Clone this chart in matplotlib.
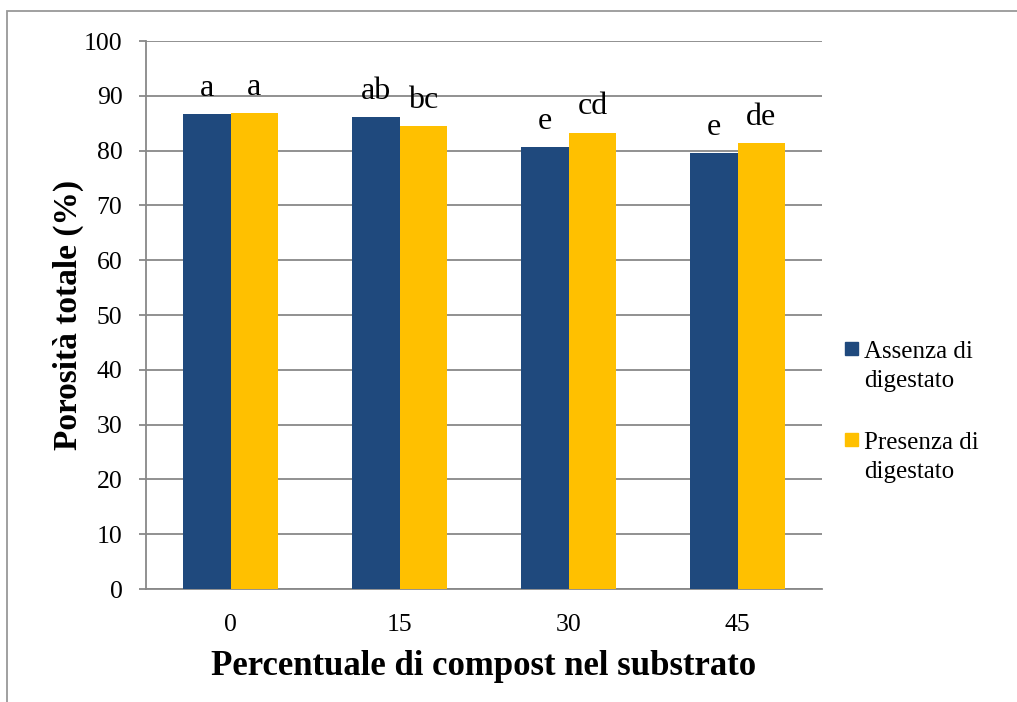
import numpy as np
import matplotlib.pyplot as plt
from matplotlib.patches import Rectangle

plt.rcParams['font.family'] = ['Liberation Serif', 'DejaVu Serif']

# data
categories = ['0', '15', '30', '45']
assenza = [86.7, 86.2, 80.6, 79.5]
presenza = [86.8, 84.4, 83.3, 81.3]
lettere_assenza = ['a', 'ab', 'e', 'e']
lettere_presenza = ['a', 'bc', 'cd', 'de']
serie = ['Assenza di\ndigestato', 'Presenza di\ndigestato']

blue = '#1F497D'
yellow = '#FFC000'
grid_col = '#888888'

W, H = 1017, 702
fig = plt.figure(figsize=(W / 100, H / 100), dpi=100)
# plot area in pixels: x 146..822, y 41..589
ax = fig.add_axes([146 / W, 1 - 589 / H, 676 / W, 548 / H])

x = np.arange(len(categories))
w = 0.284
b1 = ax.bar(x - w / 2, assenza, w, color=blue, zorder=3)
b2 = ax.bar(x + w / 2, presenza, w, color=yellow, zorder=3)

for bars, labs in [(b1, lettere_assenza), (b2, lettere_presenza)]:
    for r, t in zip(bars, labs):
        ax.annotate(t, (r.get_x() + r.get_width() / 2, r.get_height()),
                    xytext=(0, 13), textcoords='offset points',
                    ha='center', va='baseline', fontsize=23)

ax.set_xlim(-0.5, len(categories) - 0.5)
ax.set_ylim(0, 100)
ax.set_yticks(np.arange(0, 101, 10))
ax.set_xticks(x)
ax.set_xticklabels(categories)
ax.yaxis.grid(True, color=grid_col, linewidth=1.3, zorder=0)
ax.set_axisbelow(True)

for s in ['top', 'right']:
    ax.spines[s].set_visible(False)
for s in ['left', 'bottom']:
    ax.spines[s].set_color(grid_col)
    ax.spines[s].set_linewidth(1.3)

ax.tick_params(axis='y', length=5, color=grid_col, width=1.3, pad=12, labelsize=18.5)
ax.tick_params(axis='x', length=0, pad=18, labelsize=18.5)

ax.set_ylabel('Porosità totale (%)', fontsize=24, fontweight='bold')
ax.yaxis.set_label_coords((84 - 146) / 676, 0.5)
ax.set_xlabel('Percentuale di compost nel substrato', fontsize=25, fontweight='bold', labelpad=10)

# legend drawn by hand: square next to first line of each entry
leg_y = [358, 449]
for (lab, col, yb) in zip(serie, [blue, yellow], leg_y):
    sq_top = yb - 16
    fig.patches.append(Rectangle((845 / W, 1 - (sq_top + 13) / H), 13 / W, 13 / H,
                                 transform=fig.transFigure, color=col))
    for i, line in enumerate(lab.split('\n')):
        fig.text(864 / W, 1 - (yb + 29 * i) / H, line, fontsize=18,
                 ha='left', va='baseline')

fig.patches.append(Rectangle((7 / W, -0.5), 2, 0.5 + 1 - 11 / H,
                             transform=fig.transFigure, fill=False,
                             edgecolor='#999999', linewidth=1.3))

fig.savefig('out.png', dpi=100)
